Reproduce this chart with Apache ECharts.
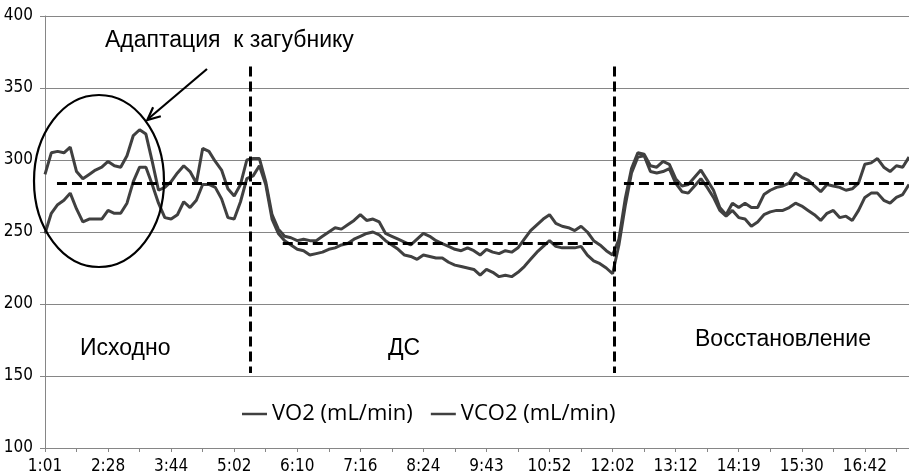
<!DOCTYPE html>
<html>
<head>
<meta charset="utf-8">
<script src="https://cdn.jsdelivr.net/npm/echarts@6/dist/echarts.min.js"></script>
<style>
html,body{margin:0;padding:0;background:#fff;}
#chart{width:909px;height:475px;}
</style>
</head>
<body>
<div id="chart"></div>
<script>
// Tick labels on the time axis (one every 10 samples)
const tickLabels = ['1:01','2:28','3:44','5:02','6:10','7:16','8:24','9:43','10:52','12:02','13:12','14:19','15:30','16:42'];

// VO2 (mL/min), sampled evenly along the category axis
const vo2 = [
  290,305,306,305,309,292,287,290,293,295,
  299,296,295,303,317,321,318,299,279,281,
  285,291,296,292,284,308,306,299,293,280,
  275,283,300,301,301,285,262,252,247,246,
  244,245,244,244,247,250,253,252,255,258,
  262,258,259,257,249,247,245,243,241,245,
  249,247,244,242,240,238,237,239,237,234,
  238,236,235,237,236,239,245,251,255,259,
  262,256,254,253,251,254,250,244,241,237,
  234,245,273,294,305,304,296,295,299,297,
  287,282,283,288,293,286,279,267,262,270,
  267,270,267,267,276,279,281,282,284,291,
  288,286,282,278,283,282,281,279,280,284,
  297,298,301,295,292,296,295,302
];

// VCO2 (mL/min)
const vco2 = [
  249,263,269,272,277,266,257,259,259,259,
  265,263,263,270,285,295,295,283,270,260,
  259,262,271,267,272,283,283,281,273,260,
  259,271,287,289,296,283,259,249,244,241,
  238,237,234,235,236,238,239,241,242,245,
  247,249,250,248,244,241,238,234,233,231,
  234,233,232,232,229,227,226,225,224,220,
  224,222,219,220,219,222,226,231,236,240,
  244,240,239,239,239,240,234,230,228,225,
  221,241,268,291,302,303,292,291,292,294,
  284,278,277,282,287,281,274,265,261,265,
  260,259,254,257,262,264,265,265,267,270,
  268,265,262,258,263,265,260,261,258,265,
  274,277,277,272,270,274,276,283
];

// Phase mean levels (dashed horizontal lines): start sample, end sample, value
const meanFrom = [1.9, 37.7, 91.8];
const meanTo = [34.3, 87.3, 137];
const meanValue = [284, 242.5, 284];

// Phase boundaries (dashed vertical lines), in samples, and their value span
const boundaryAt = [32.5, 90.3];
const boundaryLow = 152;
const boundaryHigh = 365;

const phaseNames = ['Исходно', 'ДС', 'Восстановление'];
const noteText = 'Адаптация  к загубнику';

const seriesNames = ['VO2 (mL/min)', 'VCO2 (mL/min)'];

const chart = echarts.init(document.getElementById('chart'), null, {renderer: 'canvas'});

const pairs = arr => arr.map((v, i) => [i, v]);
const dashStyle = {color: '#000', width: 3, type: [10, 5]};

const markData = [];
for (let k = 0; k < meanValue.length; k++) {
  markData.push([{coord: [meanFrom[k], meanValue[k]]}, {coord: [meanTo[k], meanValue[k]]}]);
}
for (let k = 0; k < boundaryAt.length; k++) {
  markData.push([{coord: [boundaryAt[k], boundaryHigh]}, {coord: [boundaryAt[k], boundaryLow]}]);
}

const axisFont = "'Liberation Sans Narrow','DejaVu Sans Condensed','Liberation Sans',sans-serif";
const textFont = "'Liberation Sans',Arial,sans-serif";

const option = {
  animation: false,
  backgroundColor: '#fff',
  grid: {left: 45, top: 16, width: 866, height: 433, containLabel: false},
  xAxis: {
    type: 'value',
    min: 0,
    max: 137,
    interval: 5,
    axisLine: {show: true, lineStyle: {color: '#868686', width: 1}},
    axisTick: {show: true, length: 4, lineStyle: {color: '#868686'}},
    splitLine: {show: false},
    axisLabel: {
      color: '#000',
      fontSize: 17,
      fontFamily: axisFont,
      margin: 10,
      showMaxLabel: false,
      formatter: v => (v % 10 === 0 && tickLabels[v / 10] !== undefined) ? tickLabels[v / 10] : ''
    }
  },
  yAxis: {
    type: 'value',
    min: 100,
    max: 400,
    interval: 50,
    axisLine: {show: true, lineStyle: {color: '#868686', width: 1}},
    axisTick: {show: true, length: 5, lineStyle: {color: '#868686'}},
    splitLine: {show: true, lineStyle: {color: '#868686', width: 1}},
    axisLabel: {color: '#000', fontSize: 17, fontFamily: axisFont, margin: 12}
  },
  legend: {
    left: 237,
    top: 398,
    icon: 'rect',
    itemWidth: 25,
    itemHeight: 2.5,
    itemGap: 18,
    textStyle: {color: '#000', fontSize: 22, fontFamily: "'Open Sans',sans-serif"},
    data: seriesNames
  },
  series: [
    {
      name: seriesNames[0],
      type: 'line',
      data: pairs(vo2),
      symbol: 'none',
      lineStyle: {color: '#404040', width: 3},
      itemStyle: {color: '#404040'},
      z: 2,
      markLine: {
        silent: true,
        symbol: ['none', 'none'],
        label: {show: false},
        lineStyle: dashStyle,
        data: markData
      }
    },
    {
      name: seriesNames[1],
      type: 'line',
      data: pairs(vco2),
      symbol: 'none',
      lineStyle: {color: '#404040', width: 3},
      itemStyle: {color: '#404040'},
      z: 2
    }
  ],
  graphic: [
    {type: 'ellipse', shape: {cx: 99, cy: 181, rx: 65, ry: 86}, style: {fill: 'none', stroke: '#000', lineWidth: 2.2}, z: 100},
    {type: 'line', shape: {x1: 207, y1: 69, x2: 148, y2: 119}, style: {stroke: '#000', lineWidth: 2.2}, z: 100},
    {type: 'polyline', shape: {points: [[160.8, 116.3], [147.3, 120], [153.1, 107.3]]}, style: {fill: 'none', stroke: '#000', lineWidth: 2.2}, z: 100},
    {type: 'text', left: 105, top: 29, style: {text: noteText, font: "23px " + textFont, fill: '#000'}, z: 100},
    {type: 'text', left: 80, top: 337, style: {text: phaseNames[0], font: "23px " + textFont, fill: '#000'}, z: 100},
    {type: 'text', left: 388, top: 337, style: {text: phaseNames[1], font: "23px " + textFont, fill: '#000'}, z: 100},
    {type: 'text', left: 695, top: 328, style: {text: phaseNames[2], font: "23px " + textFont, fill: '#000'}, z: 100}
  ]
};
chart.setOption(option);
</script>
</body>
</html>
